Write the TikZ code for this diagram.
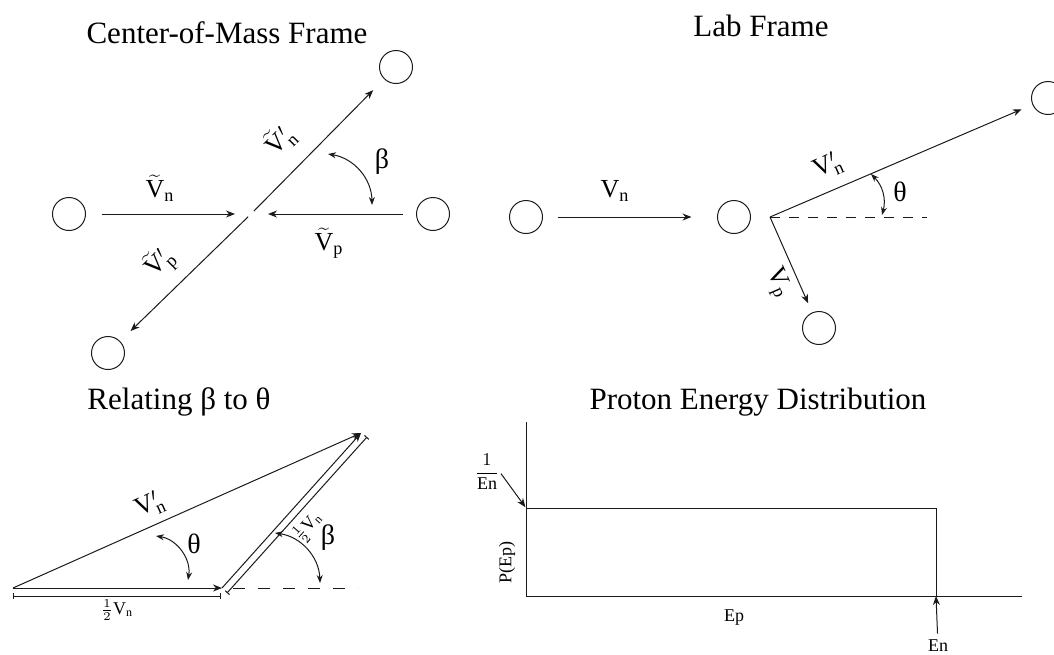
\documentclass[tikz,border=0pt]{standalone}
\usepackage{fontspec}
\setmainfont{Liberation Serif}
\usepackage{xcolor}
\definecolor{inkLine}{HTML}{1A1A1A}
\usetikzlibrary{arrows.meta}

\begin{document}
\begin{tikzpicture}[x=0.5pt, y=-0.5pt,
  ball/.style={circle, draw=inkLine, line width=0.5pt, minimum size=16.5pt, inner sep=0pt},
  vec/.style={draw=inkLine, line width=0.5pt, -{Stealth[length=4.5pt, width=3.5pt]}},
  turn/.style={draw=inkLine, line width=0.5pt, {Stealth[length=4pt, width=3pt]}-{Stealth[length=4pt, width=3pt]}},
  dimline/.style={draw=inkLine, line width=0.5pt, {Bar[width=3pt]}-{Bar[width=3pt]}},
  guide/.style={draw=inkLine, line width=0.5pt, dash pattern=on 5pt off 4.5pt},
  guidewide/.style={draw=inkLine, line width=0.5pt, dash pattern=on 6pt off 6.5pt},
  heading/.style={font=\fontsize{15.5}{18}\selectfont, inner sep=0pt, anchor=base},
  vlabel/.style={font=\fontsize{13}{15}\selectfont, inner sep=0pt},
  glabel/.style={font=\fontsize{14}{16}\selectfont, inner sep=0pt},
  smalltag/.style={font=\fontsize{9}{11}\selectfont, inner sep=0pt}]
  \useasboundingbox (0,0) rectangle (1054,654);

  \node[heading] (cmTitle) at (227,43) {Center-of-Mass Frame};
  \node[ball] (cmN) at (69,214) {};
  \node[ball] (cmP) at (433,214) {};
  \node[ball] (cmNout) at (396,67) {};
  \node[ball] (cmPout) at (108,353) {};
  \coordinate (cmC) at (251,214);
  \draw[vec, shorten <=7.75pt, shorten >=8pt] (cmN) -- (cmC);
  \draw[vec, shorten <=6.75pt, shorten >=8.5pt] (cmP) -- (cmC);
  \draw[vec, shorten <=2pt, shorten >=7.75pt] (cmC) -- (cmNout);
  \draw[vec, shorten <=2pt, shorten >=7.25pt] (cmC) -- (cmPout);
  \node[vlabel] (cmVn) at (160,188) {$\widetilde{\mathrm{V}}_{\mathrm{n}}$};
  \node[vlabel] (cmVp) at (329,243) {$\widetilde{\mathrm{V}}_{\mathrm{p}}$};
  \node[vlabel, rotate=45] (cmVnp) at (280,140) {$\widetilde{\mathrm{V}}'_{\mathrm{n}}$};
  \node[vlabel, rotate=45] (cmVpp) at (160,263) {$\widetilde{\mathrm{V}}'_{\mathrm{p}}$};
  \coordinate (cmB1) at (328,154);
  \coordinate (cmB2) at (372,205);
  \draw[turn] (cmB1) to[bend left=40] (cmB2);
  \node[glabel] (cmBeta) at (382,162) {β};

  \node[heading] (lbTitle) at (761,36) {Lab Frame};
  \node[ball] (lbN) at (526,217) {};
  \node[ball] (lbP) at (734,217) {};
  \node[ball] (lbNout) at (1048,98) {};
  \node[ball] (lbPout) at (819,328) {};
  \coordinate (lbO) at (770,217);
  \coordinate (lbEnd) at (927,217);
  \draw[vec, shorten <=7.25pt, shorten >=12.75pt] (lbN) -- (lbP);
  \draw[vec, shorten >=5.8pt] (lbO) -- (lbNout);
  \draw[vec, shorten >=5pt] (lbO) -- (lbPout);
  \draw[guide] (lbO) -- (lbEnd);
  \node[vlabel] (lbVn) at (615,191) {$\mathrm{V}_{\mathrm{n}}$};
  \node[vlabel, rotate=23.5] (lbVnp) at (828,166) {$\mathrm{V}'_{\mathrm{n}}$};
  \node[vlabel, rotate=-66.5] (lbVp) at (778,283) {$\mathrm{V}_{\mathrm{p}}$};
  \coordinate (lbT1) at (871,174);
  \coordinate (lbT2) at (882,215);
  \draw[turn] (lbT1) to[bend left=30] (lbT2);
  \node[glabel] (lbTheta) at (900,192) {θ};

  \node[heading] (tTitle) at (179,409) {Relating β to θ};
  \coordinate (tA) at (13,588);
  \coordinate (tB) at (222,588);
  \coordinate (tP) at (361,433);
  \coordinate (tQ1) at (227,593);
  \coordinate (tQ2) at (367,437);
  \coordinate (tD1) at (13,596);
  \coordinate (tD2) at (221,596);
  \coordinate (tGuideEnd) at (358,588);
  \draw[vec] (tA) -- (tB);
  \draw[vec] (tA) -- (tP);
  \draw[vec] (tB) -- (tP);
  \draw[dimline] (tQ1) -- (tQ2);
  \draw[dimline] (tD1) -- (tD2);
  \draw[guidewide, shorten <=5.5pt] (tB) -- (tGuideEnd);
  \node[vlabel, rotate=24] (tVnp) at (150,505) {$\mathrm{V}'_{\mathrm{n}}$};
  \node[smalltag, rotate=48] (tHalfDiag) at (308,527) {$\frac{1}{2}\mathrm{V}_{\mathrm{n}}$};
  \node[smalltag] (tHalfBot) at (117,610) {$\frac{1}{2}\mathrm{V}_{\mathrm{n}}$};
  \coordinate (tT1) at (156,536);
  \coordinate (tT2) at (188,580);
  \draw[turn] (tT1) to[bend left=45] (tT2);
  \node[glabel] (tTheta) at (194,544) {θ};
  \coordinate (tB1) at (275,533);
  \coordinate (tB2) at (320,583);
  \draw[turn] (tB1) to[bend left=40] (tB2);
  \node[glabel] (tBeta) at (328,538) {β};

  \node[heading] (gTitle) at (758,409) {Proton Energy Distribution};
  \coordinate (gTop) at (526,422);
  \coordinate (gO) at (526,596);
  \coordinate (gEnd) at (1022,596);
  \coordinate (gH) at (526,508);
  \coordinate (gHR) at (936,508);
  \coordinate (gE) at (936,596);
  \draw[inkLine, line width=0.5pt] (gTop) -- (gO) -- (gEnd);
  \draw[inkLine, line width=0.5pt] (gH) -- (gHR) -- (gE);
  \node[smalltag] (gFrac) at (487,472) {$\displaystyle\frac{1}{\mathrm{En}}$};
  \draw[vec, shorten <=1pt, shorten >=0.5pt] (gFrac.east) -- (gH);
  \node[smalltag] (gEnLbl) at (938,646) {En};
  \draw[vec, shorten <=3pt] (gEnLbl) -- (gE);
  \node[smalltag] (gEp) at (734,618) {Ep};
  \node[smalltag, rotate=90] (gPEp) at (507,562) {P(Ep)};
\end{tikzpicture}
\end{document}
